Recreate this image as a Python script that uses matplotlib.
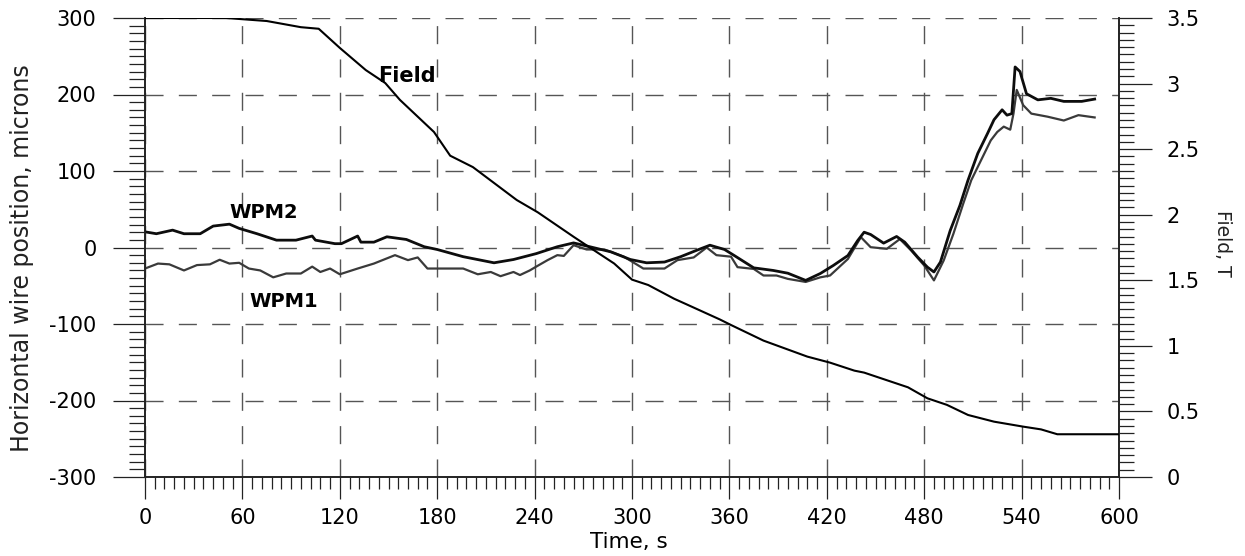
import matplotlib
matplotlib.use("Agg")
import matplotlib.pyplot as plt
from matplotlib.ticker import MultipleLocator, AutoMinorLocator, FuncFormatter

# time (s) and horizontal wire position (microns)
wpm2_t = [0, 7, 17, 24, 34, 42, 52, 58, 69, 81, 93, 103, 105, 117, 121, 131, 133,
          141, 149, 161, 172, 180, 196, 215, 227, 241, 254, 264, 274, 287, 299,
          309, 320, 330, 340, 348, 357, 363, 375, 387, 396, 407, 416, 424, 433,
          439, 443, 447, 455, 463, 468, 476, 482, 486, 490, 496, 502, 507, 513,
          519, 523, 528, 531, 534, 536, 539, 543, 550, 558, 566, 577, 585]
wpm2_v = [20.5, 18, 22.7, 18, 18, 28, 30.5, 25, 18, 9.6, 9.6, 15, 9.6, 5, 5, 15, 7,
          7, 14, 10.5, 1, -2.6, -12, -20, -15.7, -8, 1, 6, 1, -5.7, -15.7,
          -20, -19, -12, -3.5, 3, -2.6, -10.5, -26.6, -30, -33.6, -43, -34, -23.5, -10.5,
          9, 20, 17, 5.7, 14.4, 7, -12.6, -25.7, -32, -19, 22, 55, 88, 123,
          149, 167, 180, 173, 175, 236, 230, 201, 193, 195, 191, 191, 194]

wpm1_t = [0, 8, 15, 24, 32, 40, 46, 52, 58, 64, 71, 79, 87, 96, 103, 108, 114, 120,
          131, 141, 154, 162, 168, 174, 182, 196, 205, 213, 219, 227, 231, 237,
          241, 248, 254, 258, 264, 272, 283, 295, 307, 320, 328, 338, 346, 352,
          361, 365, 375, 381, 389, 396, 407, 416, 422, 433, 441, 447, 457, 465,
          472, 480, 486, 492, 498, 504, 509, 515, 521, 525, 529, 533, 535, 537,
          541, 546, 556, 566, 575, 585]
wpm1_v = [-27.5, -21, -22, -30, -23, -22, -16, -21, -20, -27.5, -30, -39, -34, -34,
          -25, -32, -27.5, -35, -27.5, -21, -10, -16.5, -13, -27.5, -27.5, -27.5,
          -35, -32, -37.5, -32, -36, -30, -25, -16.5, -10, -11, 3, -2.6, -2.6, -12,
          -27.5, -27.5, -16.5, -13, 0, -10, -12, -25.7, -28, -36.6, -36.6, -41, -45,
          -39, -36.6, -15, 13.5, 0.4, -1.7, 11, -4, -23.5, -43, -17, 18, 57, 88,
          114, 140, 151, 158, 154, 175, 206, 186, 175, 171, 166, 173, 170]

# magnet field (T)
field_t = [0, 50, 75, 96, 107, 120, 136, 148, 157, 178, 188, 202, 219, 229, 242,
           264, 274, 289, 300, 310, 326, 333, 354, 361, 381, 408, 422, 437, 443,
           470, 482, 494, 507, 523, 541, 552, 562, 600]
field_b = [3.5, 3.5, 3.477, 3.43, 3.418, 3.272, 3.103, 3.004, 2.876, 2.631, 2.45,
           2.363, 2.205, 2.112, 2.018, 1.832, 1.75, 1.628, 1.505, 1.464, 1.359,
           1.32, 1.202, 1.159, 1.04, 0.918, 0.872, 0.811, 0.796, 0.684, 0.6, 0.55,
           0.473, 0.422, 0.384, 0.363, 0.326, 0.326]

plt.rcParams['font.family'] = ['DejaVu Sans']
plt.rcParams['axes.unicode_minus'] = False

fig = plt.figure(figsize=(12.45, 5.56), dpi=100)
ax = fig.add_axes([145 / 1245, 1 - 477 / 556, 974 / 1245, 459 / 556])
ax2 = ax.twinx()

ax.plot(wpm1_t, wpm1_v, color='#3a3a3a', lw=1.6, zorder=3)
ax.plot(wpm2_t, wpm2_v, color='#0d0d0d', lw=2.0, zorder=4)
ax2.plot(field_t, field_b, color='black', lw=1.5, zorder=5)

ax.set_xlim(0, 600)
ax.set_ylim(-300, 300)
ax2.set_ylim(0, 3.5)

ax.xaxis.set_major_locator(MultipleLocator(60))
ax.xaxis.set_minor_locator(AutoMinorLocator(10))
ax.yaxis.set_major_locator(MultipleLocator(100))
ax.yaxis.set_minor_locator(AutoMinorLocator(10))
ax2.yaxis.set_major_locator(MultipleLocator(0.5))
ax2.yaxis.set_minor_locator(AutoMinorLocator(9))
ax2.yaxis.set_major_formatter(FuncFormatter(lambda v, p: f'{v:g}'))

ax.grid(which='major', color='#555555', lw=1.0, ls=(0, (13, 11)))

for a in (ax, ax2):
    a.spines['top'].set_visible(False)
    for s in ('left', 'right', 'bottom'):
        a.spines[s].set_color('#222222')
        a.spines[s].set_linewidth(1.2)

ax.tick_params(axis='x', which='major', direction='out', length=16, width=0.9,
               color='#222222', pad=6, labelsize=15)
ax.tick_params(axis='x', which='minor', direction='out', length=8.5, width=0.9,
               color='#222222')
ax.tick_params(axis='y', which='major', direction='out', length=23, width=0.9,
               color='#222222', pad=12, labelsize=15)
ax.tick_params(axis='y', which='minor', direction='out', length=11.5, width=0.9,
               color='#222222')
ax2.tick_params(axis='y', which='major', direction='out', length=24, width=0.9,
                color='#222222', pad=10, labelsize=15)
ax2.tick_params(axis='y', which='minor', direction='out', length=11, width=0.9,
                color='#222222')

ax.set_xlabel('Time, s', fontsize=15.5, va='center')
ax.xaxis.set_label_coords(0.497, -0.142)
ax.set_ylabel('Horizontal wire position, microns', fontsize=17, color='#222222',
              va='center', ha='center', rotation_mode='anchor')
ax.yaxis.set_label_coords(-0.126, 0.476)
ax2.set_ylabel('Field, T', fontsize=13.5, rotation=270, color='#222222',
               va='center', ha='center', rotation_mode='anchor')
ax2.yaxis.set_label_coords(1.106, 0.51)

ax.text(161.5, 216, 'Field', fontsize=15, fontweight='bold', ha='center',
        va='baseline', zorder=6)
ax.text(73.4, 38.6, 'WPM2', fontsize=14, fontweight='bold', ha='center',
        va='baseline', zorder=6)
ax.text(85.4, -77.7, 'WPM1', fontsize=14, fontweight='bold', ha='center',
        va='baseline', zorder=6)

fig.savefig('out.png', dpi=100)
